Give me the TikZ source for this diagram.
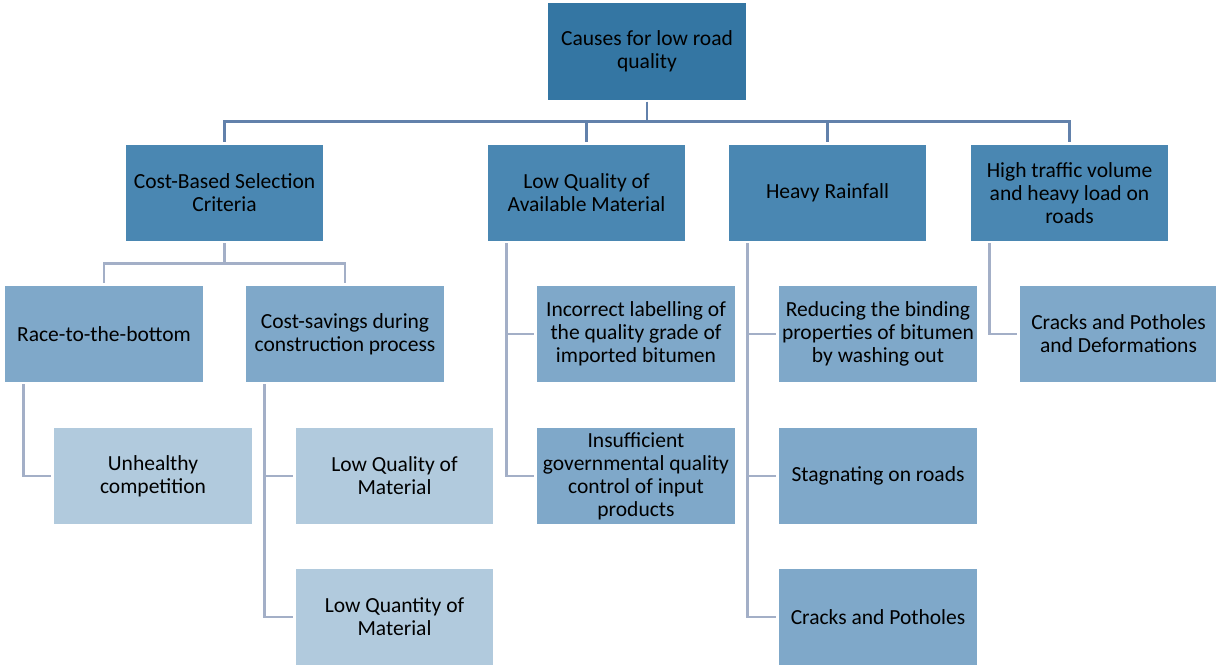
\documentclass[tikz,border=0pt]{standalone}
\usepackage{fontspec}
\setmainfont{Carlito}
\usetikzlibrary{calc}
\definecolor{rootblue}{HTML}{3476A3}
\definecolor{causeblue}{HTML}{4A87B2}
\definecolor{effectblue}{HTML}{7FA8C9}
\definecolor{paleblue}{HTML}{B1CADD}
\definecolor{busline}{HTML}{6281AB}
\definecolor{subline}{HTML}{A3AFC7}

\begin{document}
\begin{tikzpicture}[x=0.025cm, y=-0.025cm,
		box/.style={minimum width=4.925cm, minimum height=2.4cm, align=center, inner sep=1pt, text=black, font=\fontsize{15.3}{16.4}\selectfont},
		rootbox/.style={box, fill=rootblue},
		causebox/.style={box, fill=causeblue},
		effectbox/.style={box, fill=effectblue},
		palebox/.style={box, fill=paleblue},
		topline/.style={draw=busline, line width=2.1pt, shorten <=0.05cm, shorten >=0.075cm},
		subwire/.style={draw=subline, line width=2.1pt, shorten <=0.05cm, shorten >=0.075cm}]
		\useasboundingbox (0,0) rectangle (1216,668);
		
		\node[rootbox] (root) at (647,51.5) {Causes for low road\\quality};
		
		\node[causebox] (cost) at (224.5,193) {Cost-Based Selection\\Criteria};
		\node[causebox] (material) at (586.5,193) {Low Quality of\\Available Material};
		\node[causebox] (rain) at (827.5,193) {Heavy Rainfall};
		\node[causebox] (traffic) at (1069.5,193) {High traffic volume\\and heavy load on\\roads};
		
		\node[effectbox] (race) at (104,334) {Race-to-the-bottom};
		\node[effectbox] (savings) at (345,334) {Cost-savings during\\construction process};
		\node[palebox] (unhealthy) at (153,476) {Unhealthy\\competition};
		\node[palebox] (lowqual) at (394.5,476) {Low Quality of\\Material};
		\node[palebox] (lowquant) at (394.5,617) {Low Quantity of\\Material};
		
		\node[effectbox] (labelling) at (636,334) {Incorrect labelling of\\the quality grade of\\imported bitumen};
		\node[effectbox] (control) at (636,476) {Insufficient\\governmental quality\\control of input\\products};
		
		\node[effectbox] (binding) at (878,334) {Reducing the binding\\properties of bitumen\\by washing out};
		\node[effectbox] (stagnate) at (878,476) {Stagnating on roads};
		\node[effectbox] (potholes) at (878,617) {Cracks and Potholes};
		
		\node[effectbox] (deform) at (1118.5,334) {Cracks and Potholes\\and Deformations};
		
		\foreach \n in {cost, material, rain, traffic}
			\draw[topline] (root.south) -- ++(0,22) -| (\n.north);
		
		\draw[subwire] (cost.south) -- ++(0,22) -| (race.north);
		\draw[subwire] (cost.south) -- ++(0,22) -| (savings.north);
		
		\draw[subwire] ($(race.south west)+(18,0)$) |- (unhealthy.west);
		\draw[subwire] ($(savings.south west)+(18,0)$) |- (lowqual.west);
		\draw[subwire] ($(savings.south west)+(18,0)$) |- (lowquant.west);
		
		\draw[subwire] ($(material.south west)+(19,0)$) |- (labelling.west);
		\draw[subwire] ($(material.south west)+(19,0)$) |- (control.west);
		
		\draw[subwire] ($(rain.south west)+(19,0)$) |- (binding.west);
		\draw[subwire] ($(rain.south west)+(19,0)$) |- (stagnate.west);
		\draw[subwire] ($(rain.south west)+(19,0)$) |- (potholes.west);
		
		\draw[subwire] ($(traffic.south west)+(19,0)$) |- (deform.west);
		
	\end{tikzpicture}
\end{document}
